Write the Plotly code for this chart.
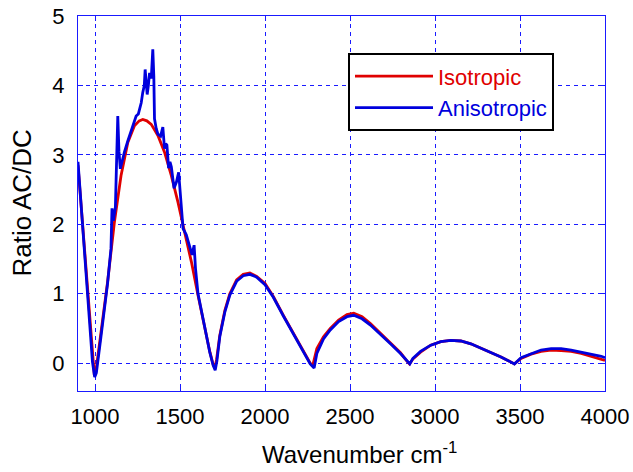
import plotly.graph_objects as go

# Isotropic (red) series
wn_iso = [900, 937, 966, 985, 996, 1005, 1035, 1074, 1114, 1153, 1193, 1232, 1260, 1281, 1305,
          1331, 1370, 1409, 1449, 1488, 1527, 1567, 1606, 1646, 1675, 1695, 1705, 1715, 1734,
          1764, 1793, 1833, 1872, 1911, 1951, 2000, 2049, 2108, 2167, 2226, 2266, 2280, 2290,
          2305, 2344, 2384, 2433, 2482, 2522, 2571, 2620, 2679, 2738, 2797, 2835, 2850, 2870,
          2915, 2975, 3034, 3093, 3152, 3211, 3270, 3329, 3388, 3437, 3467, 3506, 3565, 3624,
          3683, 3742, 3801, 3860, 3919, 3978, 4000]
ratio_iso = [2.85, 1.65, 0.69, 0.05, -0.17, -0.12, 0.41, 1.17, 2.03, 2.70, 3.18, 3.42, 3.49, 3.51, 3.49,
             3.44, 3.28, 3.04, 2.70, 2.32, 1.89, 1.46, 0.98, 0.50, 0.17, -0.02, -0.07, 0.05, 0.40,
             0.76, 1.00, 1.20, 1.28, 1.30, 1.25, 1.15, 0.96, 0.69, 0.43, 0.17, 0.00, -0.04, 0.08,
             0.21, 0.38, 0.50, 0.62, 0.70, 0.72, 0.67, 0.57, 0.43, 0.29, 0.15, 0.03, -0.01, 0.06,
             0.16, 0.26, 0.31, 0.33, 0.32, 0.28, 0.22, 0.15, 0.09, 0.03, -0.01, 0.07, 0.13, 0.17,
             0.19, 0.18, 0.17, 0.14, 0.10, 0.05, 0.04]

# Anisotropic (blue) series
wn_aniso = [900, 937, 966, 985, 998, 1008, 1035, 1074, 1094, 1100, 1108, 1115, 1120, 1134, 1141,
            1149, 1160, 1173, 1193, 1210, 1222, 1242, 1255, 1272, 1281, 1290, 1295, 1300, 1307,
            1314, 1321, 1331, 1340, 1346, 1350, 1360, 1370, 1386, 1399, 1409, 1416, 1423, 1433,
            1441, 1449, 1465, 1479, 1492, 1504, 1518, 1537, 1557, 1571, 1583, 1591, 1606, 1646,
            1675, 1695, 1707, 1717, 1734, 1764, 1793, 1833, 1872, 1911, 1951, 2000, 2049, 2108,
            2167, 2226, 2266, 2289, 2300, 2305, 2344, 2384, 2433, 2482, 2522, 2571, 2620, 2679,
            2738, 2797, 2835, 2852, 2870, 2915, 2975, 3034, 3093, 3152, 3211, 3270, 3329, 3388,
            3437, 3467, 3506, 3565, 3624, 3683, 3742, 3801, 3860, 3919, 3978, 4000]
ratio_aniso = [2.90, 1.68, 0.70, 0.02, -0.20, -0.14, 0.38, 1.15, 1.65, 2.23, 2.05, 2.20, 2.25, 3.56, 3.05,
               2.80, 2.92, 3.04, 3.20, 3.33, 3.42, 3.56, 3.59, 3.75, 3.90, 4.00, 4.23, 4.05, 3.87,
               4.00, 4.18, 4.10, 4.52, 4.13, 3.52, 3.38, 3.30, 3.27, 3.40, 3.09, 3.16, 3.14, 2.81,
               2.90, 2.83, 2.52, 2.61, 2.75, 2.42, 1.94, 1.85, 1.66, 1.56, 1.70, 1.37, 1.00, 0.50,
               0.16, -0.03, -0.10, 0.03, 0.38, 0.74, 0.98, 1.18, 1.26, 1.28, 1.24, 1.13, 0.95, 0.68,
               0.42, 0.16, -0.01, -0.07, 0.08, 0.14, 0.35, 0.48, 0.60, 0.67, 0.69, 0.64, 0.55, 0.42,
               0.28, 0.14, 0.03, -0.01, 0.07, 0.17, 0.26, 0.31, 0.33, 0.32, 0.28, 0.22, 0.16, 0.09,
               0.03, -0.01, 0.08, 0.14, 0.19, 0.21, 0.21, 0.19, 0.16, 0.14, 0.10, 0.08]

x_ticks = [1000, 1500, 2000, 2500, 3000, 3500, 4000]
y_ticks = [0, 1, 2, 3, 4, 5]

RED = "#e00000"
BLUE = "#0000dd"
AX = "#1a1aff"
FONT = "Liberation Sans, Arial, sans-serif"

fig = go.Figure()
fig.add_trace(go.Scatter(x=wn_iso, y=ratio_iso, mode="lines",
                         name=f"<span style='color:{RED}'>Isotropic</span>",
                         line=dict(color=RED, width=2.8)))
fig.add_trace(go.Scatter(x=wn_aniso, y=ratio_aniso, mode="lines",
                         name=f"<span style='color:{BLUE}'>Anisotropic</span>",
                         line=dict(color=BLUE, width=2.8)))

axis_common = dict(showline=True, linecolor=AX, linewidth=1, mirror="ticks",
                   ticks="inside", ticklen=5, tickcolor=AX, automargin=False,
                   showgrid=True, gridcolor=AX, gridwidth=1, griddash="4px,4px",
                   zeroline=False, tickfont=dict(family=FONT, size=22, color="black"))

fig.update_xaxes(range=[900, 4000], tickvals=x_ticks, ticklabelstandoff=6, **axis_common)
fig.update_yaxes(range=[-0.4, 5], tickvals=y_ticks, ticklabelstandoff=8, **axis_common)

fig.add_annotation(text="Wavenumber cm<sup>-1</sup>", xref="paper", yref="paper",
                   x=(359 - 78) / 527, y=(391 - 453) / 375.3, xanchor="center", yanchor="middle",
                   showarrow=False, font=dict(family=FONT, size=24, color="black"))
fig.add_annotation(text="Ratio AC/DC", xref="paper", yref="paper", textangle=-90,
                   x=(21 - 78) / 527, y=0.5, xanchor="center", yanchor="middle",
                   showarrow=False, font=dict(family=FONT, size=26, color="black"))

fig.update_layout(
    width=633, height=472,
    margin=dict(l=78, r=28, t=16, b=81, autoexpand=False),
    paper_bgcolor="white", plot_bgcolor="white",
    showlegend=True,
    legend=dict(x=(348 - 78) / 527, y=(391 - 53) / 375.3, xanchor="left", yanchor="top",
                bgcolor="white", bordercolor="black", borderwidth=2,
                font=dict(family=FONT, size=22), itemwidth=78, tracegroupgap=0),
)

fig.write_html("out.html")
